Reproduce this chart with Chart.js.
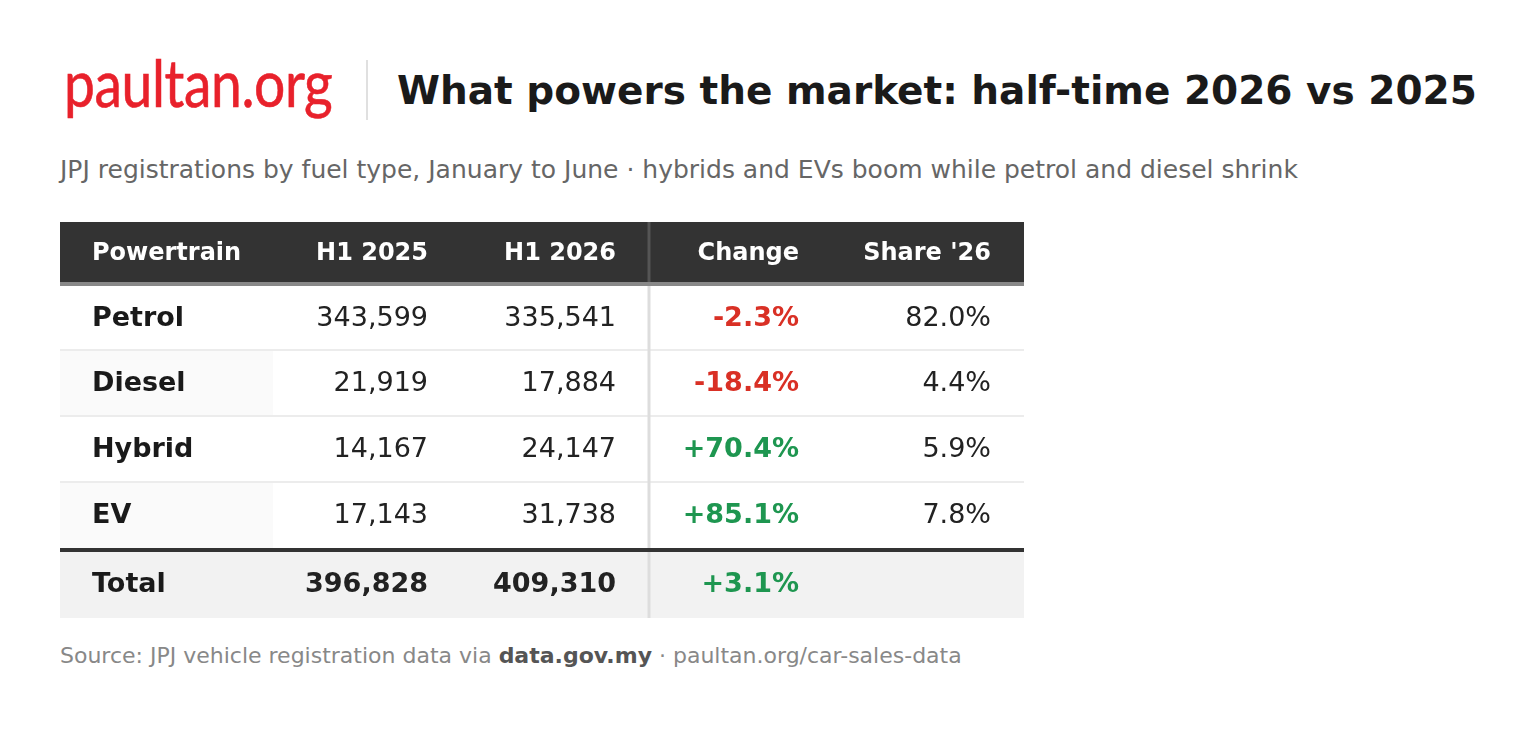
<!DOCTYPE html>
<html>
<head>
<meta charset="utf-8">
<script src="https://cdn.jsdelivr.net/npm/chart.js@4.4.1/dist/chart.umd.min.js"></script>
<style>
  html, body { margin: 0; padding: 0; background: #fff; }
  body { width: 1536px; height: 740px; position: relative; overflow: hidden; font-family: "DejaVu Sans", sans-serif; }
  .abs { position: absolute; white-space: nowrap; line-height: 1; }
  #logo { left: 64px; top: 50px; font-family: Lato, sans-serif; font-size: 65px; color: #e8212b; transform: scaleX(0.85); transform-origin: left top; letter-spacing: -0.5px; -webkit-text-stroke: 0.6px #e8212b; }
  #sep { position: absolute; left: 366px; top: 60px; width: 2px; height: 60px; background: #e0e0e0; }
  #title { left: 397px; top: 71px; font-size: 39px; font-weight: bold; color: #1a1a1a; }
  #subtitle { left: 60px; top: 157px; font-size: 25px; color: #666; }
  #source { left: 60px; top: 645px; font-size: 22px; color: #888; }
  #source b { color: #555; }
  #tableWrap { position: absolute; left: 60px; top: 222px; width: 964px; height: 396px; }
</style>
</head>
<body>
<div class="abs" id="logo">paultan.org</div>
<div id="sep"></div>
<div class="abs" id="title">What powers the market: half-time 2026 vs 2025</div>
<div class="abs" id="subtitle">JPJ registrations by fuel type, January to June · hybrids and EVs boom while petrol and diesel shrink</div>
<div id="tableWrap"><canvas id="table" width="964" height="396"></canvas></div>
<div class="abs" id="source">Source: JPJ vehicle registration data via <b>data.gov.my</b> · paultan.org/car-sales-data</div>

<script>
const columns = ['Powertrain', 'H1 2025', 'H1 2026', 'Change', "Share '26"];
const powertrains = ['Petrol', 'Diesel', 'Hybrid', 'EV'];
const h1_2025 = [343599, 21919, 14167, 17143];
const h1_2026 = [335541, 17884, 24147, 31738];
const changePct = [-2.3, -18.4, 70.4, 85.1];
const share26 = [82.0, 4.4, 5.9, 7.8];
const totalLabel = 'Total';
const total2025 = 396828;
const total2026 = 409310;
const totalChange = 3.1;

// layout (scale units)
const colWidths = [213, 188, 188, 183, 192];
const headerH = 60, headerBorder = 4;
const bodyRowH = [65, 66, 66, 65];
const totalBorder = 4, totalH = 66;
const padL = 32, padR = 33;

const RED = '#d93025', GREEN = '#1e9650';
const sumArr = a => a.reduce((s, v) => s + v, 0);
const colEdges = colWidths.reduce((acc, w) => { acc.push(acc[acc.length - 1] + w); return acc; }, [0]);
const totalW = colEdges[colEdges.length - 1];
const totalHgt = headerH + headerBorder + sumArr(bodyRowH) + totalBorder + totalH;

const fmtInt = v => v.toLocaleString('en-US');
const fmtChange = v => (v > 0 ? '+' : '') + v.toFixed(1) + '%';
const fmtShare = v => v.toFixed(1) + '%';

const tablePlugin = {
    id: 'tableCells',
    afterDraw(chart) {
        const ctx = chart.ctx;
        const xs = chart.scales.x, ys = chart.scales.y;
        const X = v => xs.getPixelForValue(v);
        const Y = v => ys.getPixelForValue(v);

        const rect = (x0, y0, x1, y1, color) => {
            ctx.fillStyle = color;
            ctx.fillRect(X(x0), Y(y0), X(x1) - X(x0), Y(y1) - Y(y0));
        };
        const text = (str, col, yc, font, color) => {
            ctx.font = font;
            ctx.fillStyle = color;
            ctx.textBaseline = 'middle';
            if (col === 0) {
                ctx.textAlign = 'left';
                ctx.fillText(str, X(colEdges[0] + padL), Y(yc));
            } else {
                ctx.textAlign = 'right';
                ctx.fillText(str, X(colEdges[col + 1] - padR), Y(yc));
            }
        };
        const BOLD = 'bold 27px "DejaVu Sans"';
        const REG = '27px "DejaVu Sans"';

        ctx.save();
        // header
        rect(0, 0, totalW, headerH, '#333333');
        rect(colEdges[3] - 1.5, 0, colEdges[3] + 1.5, headerH, '#555555');
        rect(0, headerH, totalW, headerH + headerBorder, '#888888');
        columns.forEach((c, i) => text(c, i, headerH / 2 + 2, 'bold 24px "DejaVu Sans"', '#ffffff'));

        // body rows
        let top = headerH + headerBorder;
        powertrains.forEach((name, i) => {
            const h = bodyRowH[i];
            if (i % 2 === 1) rect(0, top, colEdges[1], top + h, '#fafafa');
            if (i < powertrains.length - 1) rect(0, top + h - 2, totalW, top + h, '#ececec');
            const yc = top + h / 2;
            text(name, 0, yc, BOLD, '#1a1a1a');
            text(fmtInt(h1_2025[i]), 1, yc, REG, '#222222');
            text(fmtInt(h1_2026[i]), 2, yc, REG, '#222222');
            text(fmtChange(changePct[i]), 3, yc, BOLD, changePct[i] < 0 ? RED : GREEN);
            text(fmtShare(share26[i]), 4, yc, REG, '#222222');
            top += h;
        });

        // total row
        const tTop = top + totalBorder;
        rect(0, tTop, totalW, tTop + totalH, '#f2f2f2');
        rect(colEdges[3] - 1.5, headerH + headerBorder, colEdges[3] + 1.5, tTop + totalH, '#dddddd');
        rect(0, top, totalW, tTop, '#333333');
        const yt = tTop + totalH / 2;
        text(totalLabel, 0, yt, BOLD, '#1a1a1a');
        text(fmtInt(total2025), 1, yt, BOLD, '#222222');
        text(fmtInt(total2026), 2, yt, BOLD, '#222222');
        text(fmtChange(totalChange), 3, yt, BOLD, totalChange < 0 ? RED : GREEN);
        ctx.restore();
    }
};

new Chart(document.getElementById('table'), {
    type: 'scatter',
    data: { datasets: [{ data: [] }] },
    options: {
        responsive: false,
        animation: false,
        events: [],
        layout: { padding: 0 },
        plugins: { legend: { display: false }, tooltip: { enabled: false } },
        scales: {
            x: { type: 'linear', min: 0, max: totalW, display: false },
            y: { type: 'linear', min: 0, max: totalHgt, reverse: true, display: false }
        }
    },
    plugins: [tablePlugin]
});
</script>
</body>
</html>
